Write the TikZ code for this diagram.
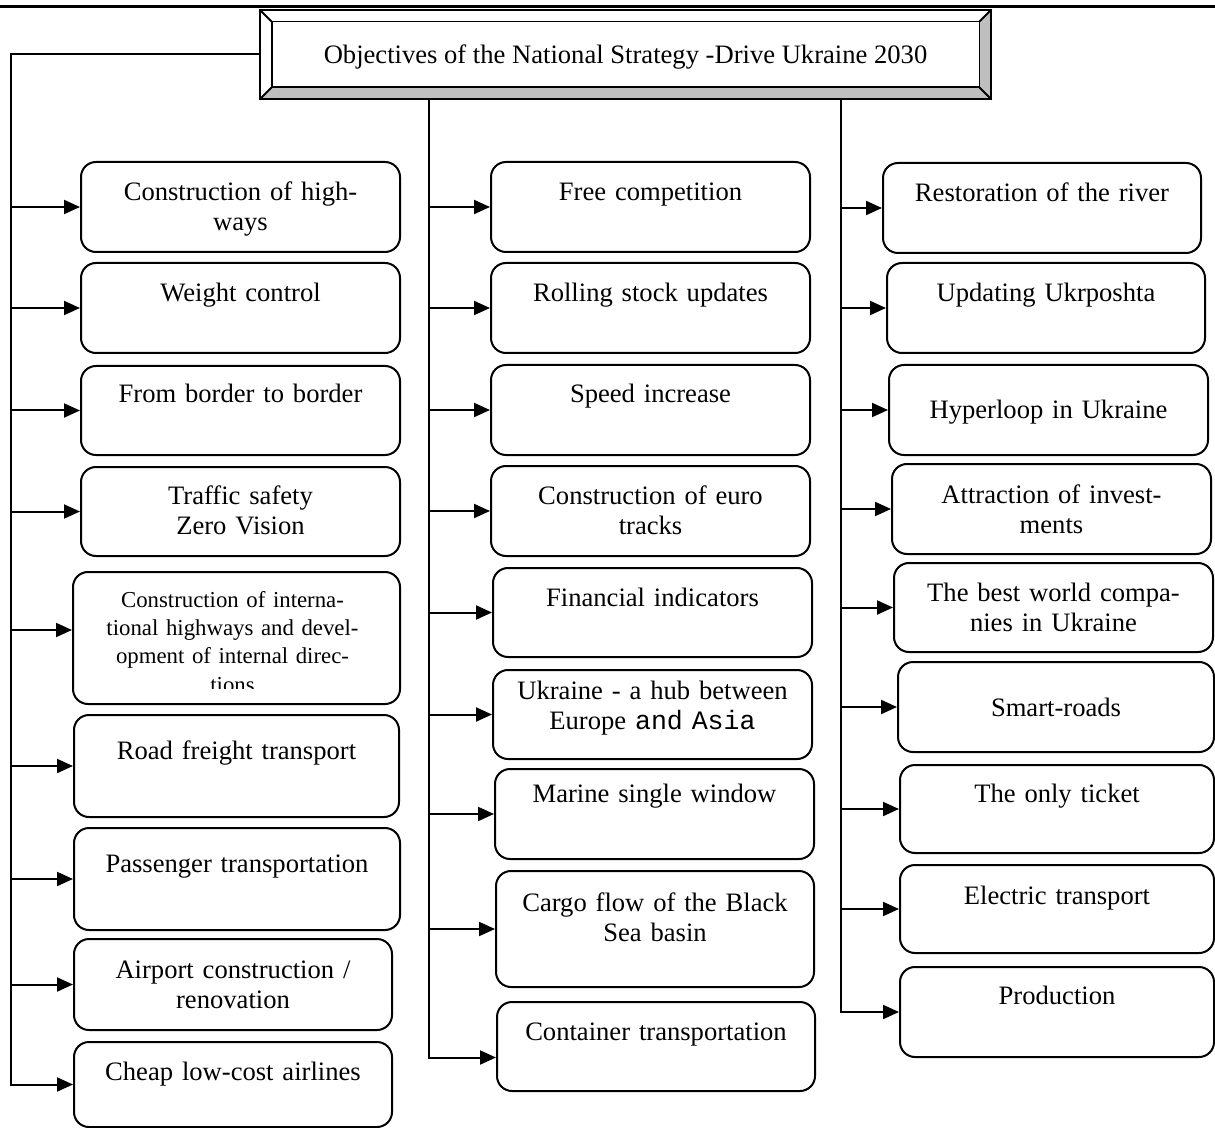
\documentclass[tikz,border=0pt]{standalone}
\usepackage{fontspec}
\setmainfont{Liberation Serif}
\newfontfamily\codefont{Liberation Mono}
\usetikzlibrary{arrows.meta}

\newcommand\objfont{\fontsize{13.3}{15}\selectfont}
\newcommand\smallobjfont{\fontsize{11.4}{14.2}\selectfont}

\tikzset{
    objbox/.style={draw, line width=1pt, rounded corners=7.5pt, inner sep=0pt},
    objtext/.style={anchor=base, align=center, inner sep=0pt, text width=150pt, font=\objfont},
    trunk/.style={line width=1pt},
    bevel/.style={fill=gray!50},
}

\begin{document}
\begin{tikzpicture}[x=0.5pt, y=-0.5pt, >={Triangle[length=8pt,width=7pt]}]
    \useasboundingbox (0,0) rectangle (1215,1128);

    % rule above the figure
    \draw[line width=1.3pt] (0,6.5) -- (1215,6.5);

    % title frame
    \node[minimum width=365.5pt, minimum height=44.5pt, inner sep=0pt, text depth=0pt, font=\objfont]
        (goal) at (625.5,54.5) {Objectives of the National Strategy -Drive Ukraine 2030};
    \fill[bevel] (goal.south west) -- (goal.south east) -- (goal.north east)
        -- ([shift={(-6pt,-6pt)}]goal.north east) -- ([shift={(-6pt,6pt)}]goal.south east)
        -- ([shift={(6pt,6pt)}]goal.south west) -- cycle;
    \draw[line width=1pt] (goal.south west) rectangle (goal.north east);
    \draw[line width=0.9pt] ([shift={(6pt,-6pt)}]goal.north west) rectangle ([shift={(-6pt,6pt)}]goal.south east);
    \draw[line width=0.9pt]
        (goal.north west) -- ++(6pt,-6pt)
        (goal.north east) -- ++(-6pt,-6pt)
        (goal.south west) -- ++(6pt,6pt)
        (goal.south east) -- ++(-6pt,6pt);

    \coordinate (lt) at (11,0);
    \coordinate (mt) at (429,0);
    \coordinate (rt) at (841,0);

    % left column
    \node[objbox, minimum width=159.5pt, minimum height=45pt]   (L1) at (240.5,207) {};
    \node[objbox, minimum width=159.5pt, minimum height=45pt]   (L2) at (240.5,308) {};
    \node[objbox, minimum width=159.5pt, minimum height=44.5pt] (L3) at (240.5,410.5) {};
    \node[objbox, minimum width=159.5pt, minimum height=44.5pt] (L4) at (240.5,511.5) {};
    \node[objbox, minimum width=163.5pt, minimum height=66pt]   (L5) at (236.5,638) {};
    \node[objbox, minimum width=162.5pt, minimum height=51pt]   (L6) at (236.5,766) {};
    \node[objbox, minimum width=163pt,   minimum height=51pt]   (L7) at (237,879) {};
    \node[objbox, minimum width=159pt,   minimum height=45.5pt] (L8) at (233,984.5) {};
    \node[objbox, minimum width=159pt,   minimum height=42.5pt] (L9) at (233,1084.5) {};
    \coordinate (L5in) at ([yshift=4pt]L5.west);

    \node[objtext] at ([yshift=-20pt]L1.north) {Construction of high-\\ways};
    \node[objtext] at ([yshift=-20pt]L2.north) {Weight control};
    \node[objtext] at ([yshift=-19pt]L3.north) {From border to border};
    \node[objtext] at ([yshift=-19pt]L4.north) {Traffic safety\\Zero Vision};
    \begin{scope}
        \clip (L5.north west) rectangle ([yshift=8.5pt]L5.south east);
        \node[objtext, font=\smallobjfont] at ([xshift=-2pt,yshift=-18pt]L5.north)
            {Construction of interna-\\tional highways and devel-\\opment of internal direc-\\tions};
    \end{scope}
    \node[objtext] at ([yshift=-22.5pt]L6.north) {Road freight transport};
    \node[objtext] at ([yshift=-22.5pt]L7.north) {Passenger transportation};
    \node[objtext] at ([yshift=-20pt]L8.north) {Airport construction /\\renovation};
    \node[objtext] at ([yshift=-19.5pt]L9.north) {Cheap low-cost airlines};

    % middle column
    \node[objbox, minimum width=159.5pt, minimum height=45pt]   (M1) at (650.5,207) {};
    \node[objbox, minimum width=159.5pt, minimum height=45pt]   (M2) at (650.5,308) {};
    \node[objbox, minimum width=159.5pt, minimum height=45pt]   (M3) at (650.5,410) {};
    \node[objbox, minimum width=159.5pt, minimum height=45pt]   (M4) at (650.5,511) {};
    \node[objbox, minimum width=159.5pt, minimum height=44.5pt] (M5) at (652.5,612.5) {};
    \node[objbox, minimum width=159.5pt, minimum height=44.5pt] (M6) at (652.5,714.5) {};
    \node[objbox, minimum width=159.5pt, minimum height=45pt]   (M7) at (654.5,814) {};
    \node[objbox, minimum width=159pt,   minimum height=58pt]   (M8) at (655,929) {};
    \node[objbox, minimum width=159pt,   minimum height=44.5pt] (M9) at (656,1046.5) {};
    \coordinate (M9in) at ([yshift=-5.5pt]M9.west);

    \node[objtext] at ([yshift=-20pt]M1.north) {Free competition};
    \node[objtext] at ([yshift=-20pt]M2.north) {Rolling stock updates};
    \node[objtext] at ([yshift=-19.5pt]M3.north) {Speed increase};
    \node[objtext] at ([yshift=-19.5pt]M4.north) {Construction of euro\\tracks};
    \node[objtext] at ([yshift=-19.5pt]M5.north) {Financial indicators};
    \node[objtext] at ([yshift=-15pt]M6.north) {Ukraine - a hub between\\Europe {\codefont and Asia}};
    \node[objtext] at ([yshift=-17pt]M7.north) {Marine single window};
    \node[objtext] at ([yshift=-20.5pt]M8.north) {Cargo flow of the Black\\Sea basin};
    \node[objtext] at ([yshift=-19.5pt]M9.north) {Container transportation};

    % right column
    \node[objbox, minimum width=159pt,   minimum height=45pt]   (R1) at (1042,208) {};
    \node[objbox, minimum width=159pt,   minimum height=45pt]   (R2) at (1046,308) {};
    \node[objbox, minimum width=159.5pt, minimum height=45pt]   (R3) at (1048.5,410) {};
    \node[objbox, minimum width=159.5pt, minimum height=45pt]   (R4) at (1051.5,509) {};
    \node[objbox, minimum width=159.5pt, minimum height=44.5pt] (R5) at (1053.5,607.5) {};
    \node[objbox, minimum width=158pt,   minimum height=45pt]   (R6) at (1056,707) {};
    \node[objbox, minimum width=157pt,   minimum height=44pt]   (R7) at (1057,809) {};
    \node[objbox, minimum width=157pt,   minimum height=44pt]   (R8) at (1057,909) {};
    \node[objbox, minimum width=157pt,   minimum height=45pt]   (R9) at (1057,1012) {};

    \node[objtext] at ([yshift=-20pt]R1.north) {Restoration of the river};
    \node[objtext] at ([yshift=-20pt]R2.north) {Updating Ukrposhta};
    \node[objtext] at ([yshift=-27.5pt]R3.north) {Hyperloop in Ukraine};
    \node[objtext] at ([yshift=-20pt]R4.north) {Attraction of invest-\\ments};
    \node[objtext] at ([yshift=-19.5pt]R5.north) {The best world compa-\\nies in Ukraine};
    \node[objtext] at ([yshift=-27.5pt]R6.north) {Smart-roads};
    \node[objtext] at ([yshift=-19pt]R7.north) {The only ticket};
    \node[objtext] at ([yshift=-20pt]R8.north) {Electric transport};
    \node[objtext] at ([yshift=-19pt]R9.north) {Production};

    % trunks
    \draw[trunk,->] (goal.west) -| (lt |- L9.west) -- (L9.west);
    \draw[trunk,->] (mt |- goal.south) |- (M9in);
    \draw[trunk,->] (rt |- goal.south) |- (R9.west);

    \path
    (lt |- L1.west) edge[trunk,->] (L1.west)
    (lt |- L2.west) edge[trunk,->] (L2.west)
    (lt |- L3.west) edge[trunk,->] (L3.west)
    (lt |- L4.west) edge[trunk,->] (L4.west)
    (lt |- L5in)    edge[trunk,->] (L5in)
    (lt |- L6.west) edge[trunk,->] (L6.west)
    (lt |- L7.west) edge[trunk,->] (L7.west)
    (lt |- L8.west) edge[trunk,->] (L8.west)
    (mt |- M1.west) edge[trunk,->] (M1.west)
    (mt |- M2.west) edge[trunk,->] (M2.west)
    (mt |- M3.west) edge[trunk,->] (M3.west)
    (mt |- M4.west) edge[trunk,->] (M4.west)
    (mt |- M5.west) edge[trunk,->] (M5.west)
    (mt |- M6.west) edge[trunk,->] (M6.west)
    (mt |- M7.west) edge[trunk,->] (M7.west)
    (mt |- M8.west) edge[trunk,->] (M8.west)
    (rt |- R1.west) edge[trunk,->] (R1.west)
    (rt |- R2.west) edge[trunk,->] (R2.west)
    (rt |- R3.west) edge[trunk,->] (R3.west)
    (rt |- R4.west) edge[trunk,->] (R4.west)
    (rt |- R5.west) edge[trunk,->] (R5.west)
    (rt |- R6.west) edge[trunk,->] (R6.west)
    (rt |- R7.west) edge[trunk,->] (R7.west)
    (rt |- R8.west) edge[trunk,->] (R8.west);
\end{tikzpicture}
\end{document}
